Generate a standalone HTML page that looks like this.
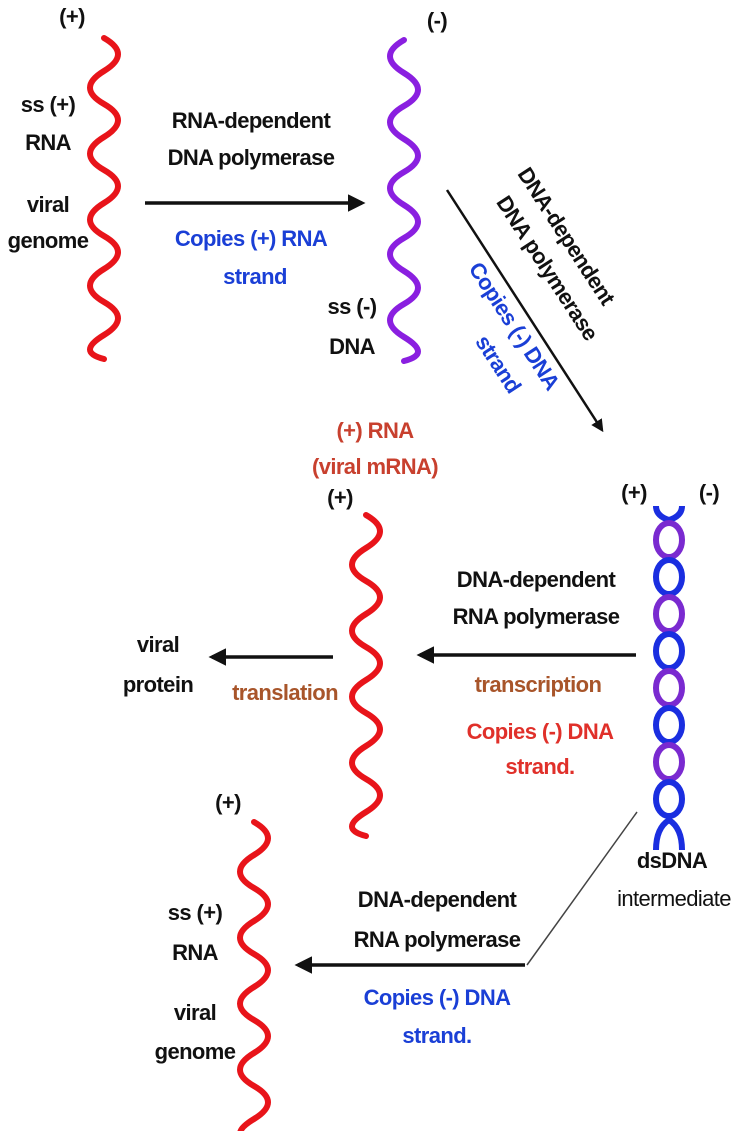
<!DOCTYPE html>
<html><head><meta charset="utf-8"><style>
html,body{margin:0;padding:0;background:#fff;}
svg{display:block;}
text{font-family:"Liberation Sans",sans-serif;font-weight:bold;font-size:22px;text-anchor:middle;fill:#111;letter-spacing:-0.6px;}
.b{fill:#1a3fd6;} .r{fill:#e0302a;} .br{fill:#a8552a;} .dr{fill:#c8402e;}
</style></head><body>
<svg width="739" height="1131" viewBox="0 0 739 1131" xmlns="http://www.w3.org/2000/svg">
<defs>
<marker id="ah" viewBox="0 0 10 10" refX="8" refY="5" markerWidth="5" markerHeight="5" orient="auto"><path d="M0,0 L10,5 L0,10 z" fill="#111"/></marker>
</defs>
<path d="M104 38 q 28 16 0 33 t 0 33 t 0 33 t 0 33 t 0 33 t 0 33 t 0 33 t 0 33 t 0 33 t 0 24" fill="none" stroke="#e8141a" stroke-width="6" stroke-linecap="round"/>
<path d="M404 40 q -28 16 0 33 t 0 33 t 0 33 t 0 33 t 0 33 t 0 33 t 0 33 t 0 33 t 0 33 t 0 24" fill="none" stroke="#8a1fe0" stroke-width="6" stroke-linecap="round"/>
<path d="M366 515 q 28 16 0 33 t 0 33 t 0 33 t 0 33 t 0 33 t 0 33 t 0 33 t 0 33 t 0 33 t 0 24" fill="none" stroke="#e8141a" stroke-width="6" stroke-linecap="round"/>
<path d="M254 822 q 28 16 0 33 t 0 33 t 0 33 t 0 33 t 0 33 t 0 33 t 0 33 t 0 33 t 0 33 t 0 24" fill="none" stroke="#e8141a" stroke-width="6" stroke-linecap="round"/>
<g fill="none" stroke-width="6">
<path d="M656 506 q 0 10 13 14 q 13 -4 13 -14" stroke="#1a2ee0"/>
<ellipse cx="669" cy="540" rx="13" ry="17" stroke="#7a2ad0"/>
<ellipse cx="669" cy="577" rx="13" ry="17" stroke="#1a2ee0"/>
<ellipse cx="669" cy="614" rx="13" ry="17" stroke="#7a2ad0"/>
<ellipse cx="669" cy="651" rx="13" ry="17" stroke="#1a2ee0"/>
<ellipse cx="669" cy="688" rx="13" ry="17" stroke="#7a2ad0"/>
<ellipse cx="669" cy="725" rx="13" ry="17" stroke="#1a2ee0"/>
<ellipse cx="669" cy="762" rx="13" ry="17" stroke="#7a2ad0"/>
<ellipse cx="669" cy="799" rx="13" ry="17" stroke="#1a2ee0"/>
<path d="M656 850 q 0 -22 13 -30 q 13 8 13 30" stroke="#1a2ee0"/>
</g>
<g stroke="#111" stroke-width="3.5" marker-end="url(#ah)">
<line x1="145" y1="203" x2="362" y2="203"/>
<line x1="447" y1="190" x2="602" y2="430" stroke-width="2.5"/>
<line x1="636" y1="655" x2="420" y2="655"/>
<line x1="333" y1="657" x2="212" y2="657"/>
<line x1="525" y1="965" x2="298" y2="965"/>
</g>
<line x1="637" y1="812" x2="527" y2="965" stroke="#444" stroke-width="1.5"/>
<text x="72" y="24" font-size="24">(+)</text>
<text x="437" y="28" font-size="24">(-)</text>
<text x="48" y="112">ss (+)</text>
<text x="48" y="150">RNA</text>
<text x="48" y="212">viral</text>
<text x="48" y="248">genome</text>
<text x="251" y="128">RNA-dependent</text>
<text x="251" y="165">DNA polymerase</text>
<text x="251" y="246" class="b">Copies (+) RNA</text>
<text x="255" y="284" class="b">strand</text>
<text x="352" y="314">ss (-)</text>
<text x="352" y="354">DNA</text>
<text transform="translate(560,240) rotate(57)">DNA-dependent</text>
<text transform="translate(541,272) rotate(57)">DNA polymerase</text>
<text class="b" transform="translate(508,330) rotate(57)">Copies (-) DNA</text>
<text class="b" transform="translate(492,368) rotate(57)">strand</text>
<text x="375" y="438" class="dr">(+) RNA</text>
<text x="375" y="474" class="dr">(viral mRNA)</text>
<text x="340" y="505" font-size="24">(+)</text>
<text x="634" y="500" font-size="24">(+)</text>
<text x="709" y="500" font-size="24">(-)</text>
<text x="536" y="587">DNA-dependent</text>
<text x="536" y="624">RNA polymerase</text>
<text x="538" y="692" class="br">transcription</text>
<text x="540" y="739" class="r">Copies (-) DNA</text>
<text x="540" y="774" class="r">strand.</text>
<text x="158" y="652">viral</text>
<text x="158" y="692">protein</text>
<text x="285" y="700" class="br">translation</text>
<text x="228" y="810" font-size="24">(+)</text>
<text x="672" y="868">dsDNA</text>
<text x="674" y="906" style="font-weight:normal">intermediate</text>
<text x="195" y="920">ss (+)</text>
<text x="195" y="960">RNA</text>
<text x="195" y="1020">viral</text>
<text x="195" y="1059">genome</text>
<text x="437" y="907">DNA-dependent</text>
<text x="437" y="947">RNA polymerase</text>
<text x="437" y="1005" class="b">Copies (-) DNA</text>
<text x="437" y="1043" class="b">strand.</text>
</svg>
</body></html>
